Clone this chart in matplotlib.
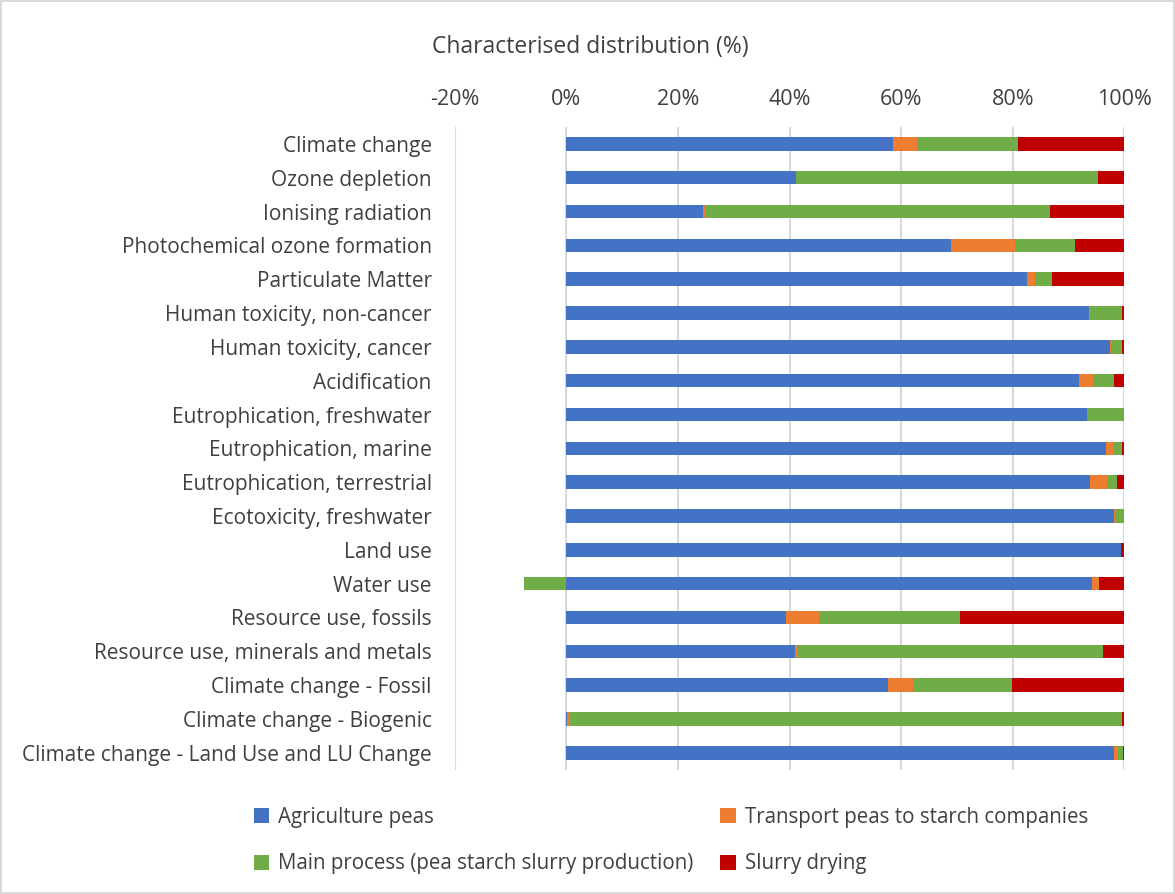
import numpy as np
import matplotlib.pyplot as plt
from matplotlib.patches import Patch

categories = [
    "Climate change", "Ozone depletion", "Ionising radiation",
    "Photochemical ozone formation", "Particulate Matter",
    "Human toxicity, non-cancer", "Human toxicity, cancer", "Acidification",
    "Eutrophication, freshwater", "Eutrophication, marine",
    "Eutrophication, terrestrial", "Ecotoxicity, freshwater", "Land use",
    "Water use", "Resource use, fossils", "Resource use, minerals and metals",
    "Climate change - Fossil", "Climate change - Biogenic",
    "Climate change - Land Use and LU Change",
]

agriculture = [58.5, 41.1, 24.4, 69.0, 82.5, 93.6, 97.4, 91.8, 93.2, 96.7,
               93.9, 98.1, 99.4, 94.1, 39.4, 41.0, 57.6, 0.1, 98.1]
transport = [4.3, 0.0, 0.5, 11.4, 1.5, 0.3, 0.2, 2.6, 0.0, 1.3,
             2.9, 0.2, 0.0, 1.3, 5.9, 0.5, 4.5, 0.6, 0.8]
main_process = [18.2, 54.1, 61.7, 10.7, 3.1, 5.6, 1.9, 3.8, 6.8, 1.5,
                1.8, 1.6, 0.0, -7.6, 25.2, 54.6, 17.8, 98.8, 0.9]
slurry = [19.0, 4.8, 13.4, 8.9, 12.9, 0.5, 0.5, 1.8, 0.0, 0.5,
          1.4, 0.1, 0.6, 4.6, 29.5, 3.9, 20.1, 0.6, 0.2]

series_names = ["Agriculture peas", "Transport peas to starch companies",
                "Main process (pea starch slurry production)", "Slurry drying"]
colors = ["#4472C4", "#ED7D31", "#70AD47", "#C00000"]

plt.rcParams['font.family'] = ['Open Sans', 'DejaVu Sans']

fig = plt.figure(figsize=(11.75, 8.94), dpi=100)
fig.patch.set_edgecolor("#D9D9D9")
fig.patch.set_linewidth(1.5)
ax = fig.add_axes([0.387, 0.139, 0.570, 0.719])

y = np.arange(len(categories))
pos_left = np.zeros(len(categories))
neg_left = np.zeros(len(categories))
for vals, col in zip([agriculture, transport, main_process, slurry], colors):
    vals = np.array(vals)
    left = np.where(vals >= 0, pos_left, neg_left)
    ax.barh(y, vals, left=left, height=0.4, color=col, edgecolor="none", zorder=3)
    pos_left += np.where(vals >= 0, vals, 0)
    neg_left += np.where(vals < 0, vals, 0)

ax.set_xlim(-20, 100)
ax.set_ylim(len(categories) - 0.5, -0.5)
ax.set_xticks(np.arange(-20, 101, 20))
ax.set_xticklabels([f"{t}%" for t in range(-20, 101, 20)])
ax.xaxis.tick_top()
ax.set_yticks(y)
ax.set_yticklabels(categories)
ax.tick_params(axis='y', length=0, labelsize=15, colors="#404040", pad=16.5)
ax.tick_params(axis='x', length=0, labelsize=15.5, colors="#404040", pad=12)
ax.grid(axis='x', color="#D9D9D9", linewidth=1.5, zorder=0)
for s in ax.spines.values():
    s.set_visible(False)

fig.text(0.368, 0.947, "Characterised distribution (%)", fontsize=16.5,
         color="#404040", ha="left", va="center")

order = [0, 2, 1, 3]
handles = [Patch(facecolor=colors[i], label=series_names[i]) for i in order]
fig.legend(handles=handles, loc="center", bbox_to_anchor=(0.571, 0.060), ncol=2,
           frameon=False, fontsize=14.8, handlelength=0.75, handleheight=0.75,
           handletextpad=0.45, columnspacing=1.3, labelspacing=1.25,
           labelcolor="#404040")

fig.savefig("out.png", dpi=100)
